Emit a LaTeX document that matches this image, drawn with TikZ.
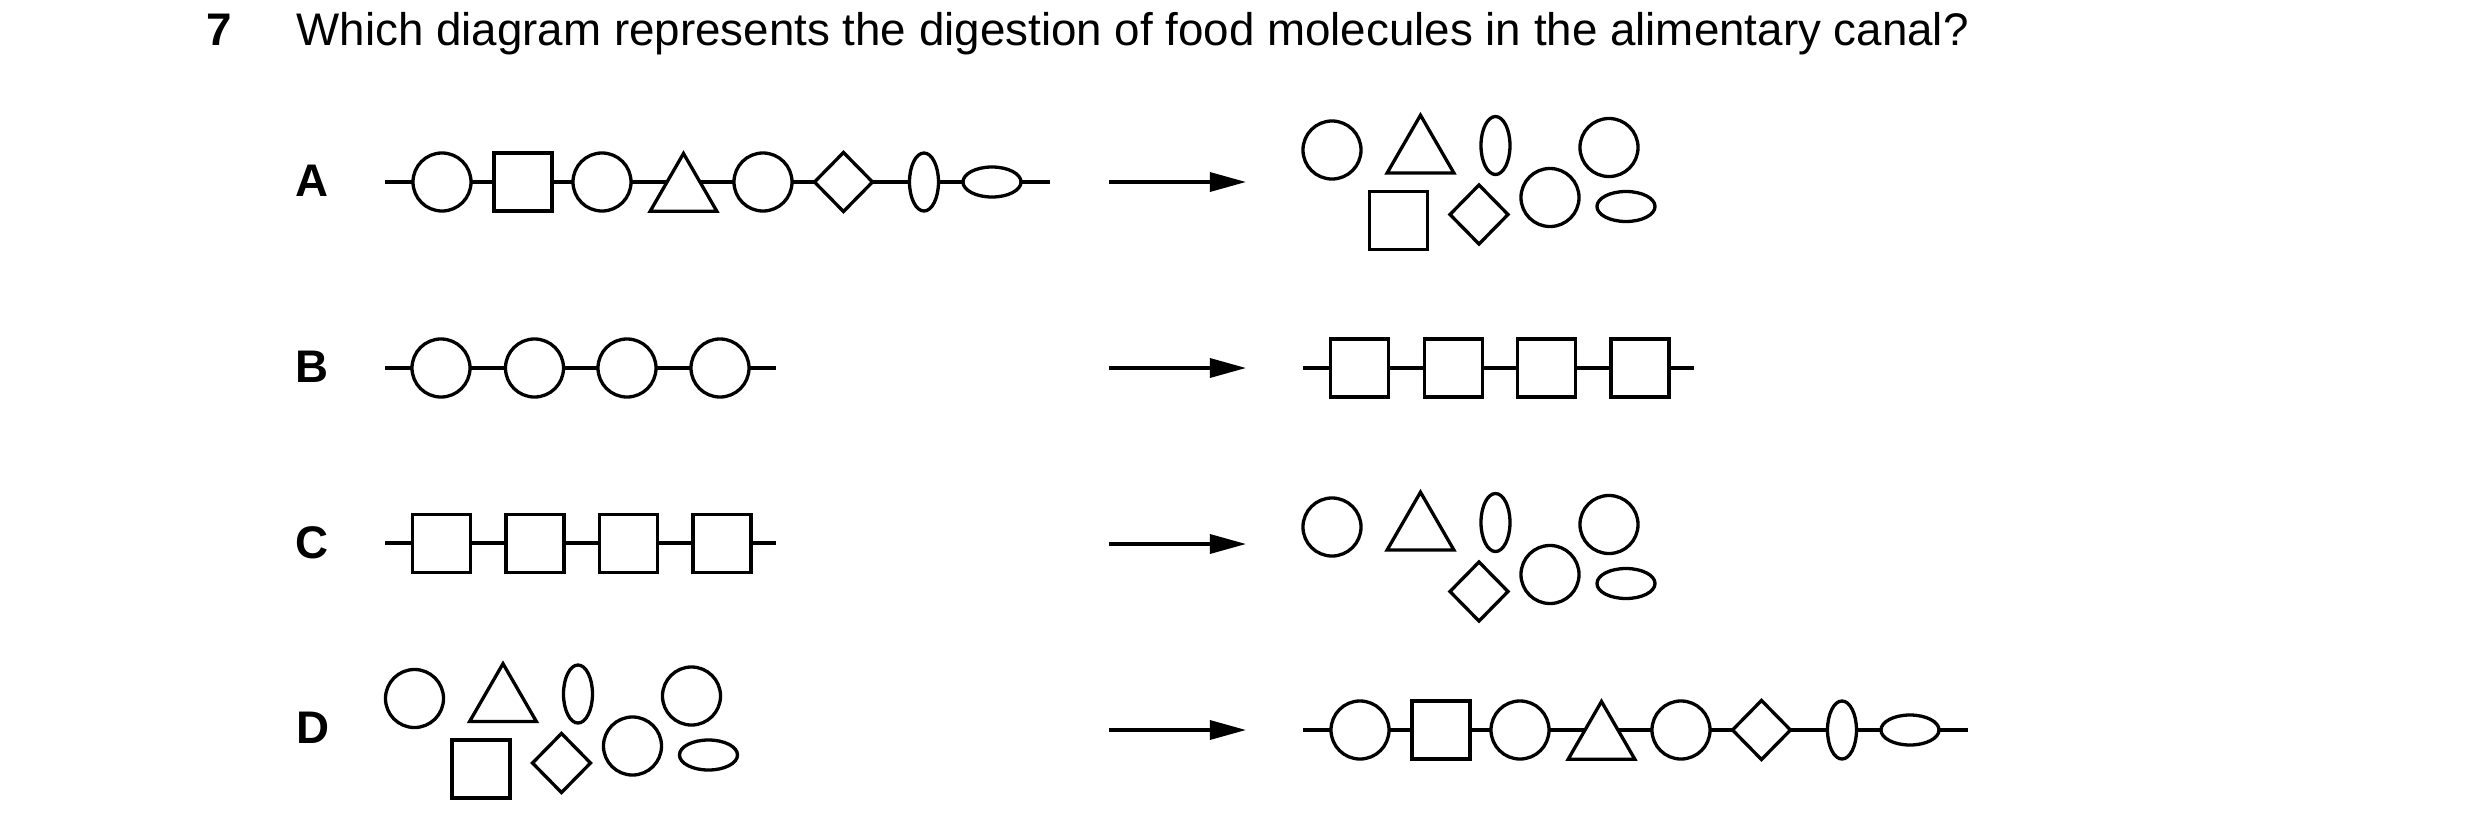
\documentclass[tikz,border=0pt]{standalone}
\usepackage{fontspec}
\setmainfont{Liberation Sans}
\usetikzlibrary{arrows.meta, shapes.geometric}

% molecule shapes
\tikzset{
  mol/.style={draw, fill=white, line width=0.033cm, inner sep=0pt, outer sep=0pt},
  ring/.style={mol, circle, minimum size=0.58cm},
  box/.style={mol, rectangle, minimum size=0.58cm},
  tri/.style={mol, regular polygon, regular polygon sides=3, minimum size=0.77cm},
  gem/.style={mol, diamond, minimum width=0.58cm, minimum height=0.59cm},
  tall/.style={mol, ellipse, minimum width=0.29cm, minimum height=0.58cm},
  flat/.style={mol, ellipse, minimum width=0.58cm, minimum height=0.30cm},
  bond/.style={line width=0.033cm},
  digest/.style={line width=0.033cm, -{Triangle[length=0.36cm, width=0.19cm]}},
  opt/.style={font=\fontsize{13}{15.6}\selectfont\bfseries},
}

% long chain, origin at its left end
\newcommand{\longchain}{%
  \coordinate (s) at (0,0);
  \coordinate (e) at (665,0);
  \draw[bond] (s) -- (e);
  \node[ring] (m1) at (57,0) {};
  \node[box]  (m2) at (138,0) {};
  \node[ring] (m3) at (217,0) {};
  \node[tri]  (m4) at (298.5,10) {};
  \node[ring] (m5) at (378,0) {};
  \node[gem]  (m6) at (458.5,0) {};
  \node[tall] (m7) at (539,0) {};
  \node[flat] (m8) at (607,0) {};
}

% loose molecules (no square), origin at first circle
\newcommand{\loosebits}{%
  \node[ring] (f1) at (0,0) {};
  \node[tri]  (f2) at (88.5,3.7) {};
  \node[tall] (f3) at (163.5,-4.5) {};
  \node[ring] (f4) at (277,-2.5) {};
  \node[gem]  (f6) at (147,64.5) {};
  \node[ring] (f7) at (218,47.5) {};
  \node[flat] (f8) at (294,56.5) {};
}

\begin{document}
\begin{tikzpicture}[x=0.01cm, y=-0.01cm]
  \useasboundingbox (0,0) rectangle (2480,839);

  % question
  \node[anchor=base west, inner sep=0pt, font=\fontsize{13}{15.6}\selectfont\bfseries] (qno) at (206,45) {7};
  \node[anchor=base west, inner sep=0pt, font=\fontsize{13}{15.6}\selectfont] (qtext) at (296,45)
    {Which diagram represents the digestion of food molecules in the alimentary canal?};

  % option labels
  \node[opt] (A) at (312,181) {A};
  \node[opt] (B) at (312,367) {B};
  \node[opt] (C) at (312,543) {C};
  \node[opt] (D) at (313,728) {D};

  % arrows
  \coordinate (A1) at (1109,182); \coordinate (A2) at (1246,182);
  \coordinate (B1) at (1109,368); \coordinate (B2) at (1246,368);
  \coordinate (C1) at (1109,544); \coordinate (C2) at (1246,544);
  \coordinate (D1) at (1109,730); \coordinate (D2) at (1246,730);
  \draw[digest] (A1) -- (A2);
  \draw[digest] (B1) -- (B2);
  \draw[digest] (C1) -- (C2);
  \draw[digest] (D1) -- (D2);

  % A
  \begin{scope}[shift={(385,182)}, name prefix=Aleft-]
    \longchain
  \end{scope}
  \begin{scope}[shift={(1332,150)}, name prefix=Aright-]
    \loosebits
    \node[box] (f5) at (66.5,70.5) {};
  \end{scope}

  % B
  \coordinate (Bls) at (385,368); \coordinate (Ble) at (776,368);
  \draw[bond] (Bls) -- (Ble);
  \foreach \x [count=\i] in {441,534.5,627,720}
    \node[ring] (Bl\i) at (\x,368) {};
  \coordinate (Brs) at (1303,368); \coordinate (Bre) at (1694,368);
  \draw[bond] (Brs) -- (Bre);
  \foreach \x [count=\i] in {1359.5,1453.5,1546.5,1640}
    \node[box] (Br\i) at (\x,368) {};

  % C
  \coordinate (Cls) at (385,543); \coordinate (Cle) at (776,543);
  \draw[bond] (Cls) -- (Cle);
  \foreach \x [count=\i] in {441.5,535,628.5,722}
    \node[box] (Cl\i) at (\x,543.5) {};
  \begin{scope}[shift={(1332,527)}, name prefix=Cright-]
    \loosebits
  \end{scope}

  % D
  \begin{scope}[shift={(414.5,698.5)}, name prefix=Dleft-]
    \loosebits
    \node[box] (f5) at (66.5,70.5) {};
  \end{scope}
  \begin{scope}[shift={(1303,730)}, name prefix=Dright-]
    \longchain
  \end{scope}
\end{tikzpicture}
\end{document}
